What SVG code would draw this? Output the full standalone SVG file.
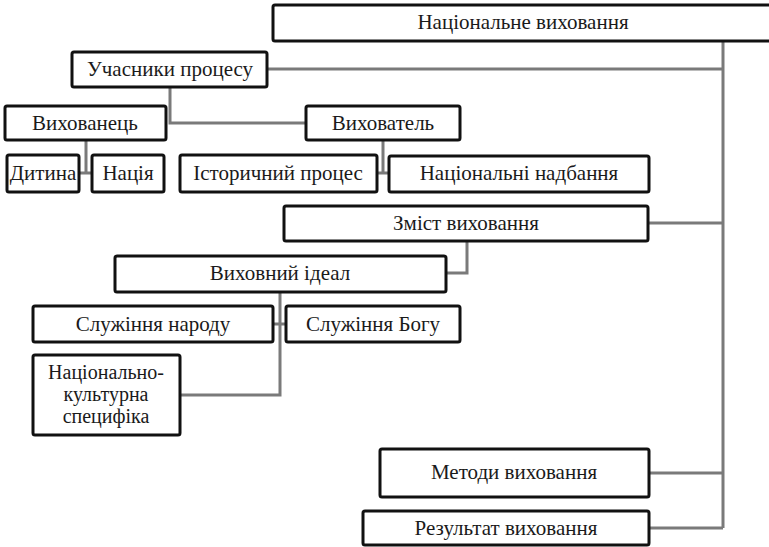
<svg xmlns="http://www.w3.org/2000/svg" width="769" height="547" viewBox="0 0 769 547">
<style>
.b{fill:#fff;stroke:#111;stroke-width:3;}
.t{font-family:"Liberation Serif","DejaVu Serif",serif;font-size:21px;fill:#1a1a1a;text-anchor:middle;}
.s{font-size:20px;}
.c{fill:none;stroke:#7a7a7a;stroke-width:3;}
</style>
<rect width="769" height="547" fill="#fff"/>
<g id="connectors">
<path class="c" d="M723 41V528"/>
<path class="c" d="M267 69H723"/>
<path class="c" d="M170 87V123H306"/>
<path class="c" d="M86 140V173M79 173H92"/>
<path class="c" d="M383 140V173M377 173H389"/>
<path class="c" d="M648 223H723"/>
<path class="c" d="M467 241V273H446"/>
<path class="c" d="M280 292V395H180M273 324H286"/>
<path class="c" d="M649 473H723"/>
<path class="c" d="M649 528H723"/>
</g>
<g id="n-nat"><rect class="b" x="273" y="5" width="510" height="36" rx="2"/><text class="t" x="523" y="29">Національне виховання</text></g>
<g id="n-uch"><rect class="b" x="72" y="52" width="195" height="35" rx="2"/><text class="t" x="170" y="76">Учасники процесу</text></g>
<g id="n-vykhovanets"><rect class="b" x="5" y="106" width="161" height="34" rx="2"/><text class="t" x="85" y="130">Вихованець</text></g>
<g id="n-vykhovatel"><rect class="b" x="306" y="106" width="154" height="34" rx="2"/><text class="t" x="383" y="130">Вихователь</text></g>
<g id="n-dytyna"><rect class="b" x="7" y="155" width="72" height="37" rx="2"/><text class="t" x="43" y="180">Дитина</text></g>
<g id="n-natsiia"><rect class="b" x="92" y="155" width="72" height="37" rx="2"/><text class="t" x="128" y="180">Нація</text></g>
<g id="n-istor"><rect class="b" x="180" y="155" width="197" height="37" rx="2"/><text class="t" x="278" y="180">Історичний процес</text></g>
<g id="n-nadb"><rect class="b" x="389" y="156" width="260" height="36" rx="2"/><text class="t" x="519" y="180">Національні  надбання</text></g>
<g id="n-zmist"><rect class="b" x="284" y="206" width="364" height="35" rx="2"/><text class="t" x="466" y="230">Зміст виховання</text></g>
<g id="n-ideal"><rect class="b" x="115" y="256" width="331" height="36" rx="2"/><text class="t" x="280" y="280">Виховний ідеал</text></g>
<g id="n-narod"><rect class="b" x="33" y="306" width="240" height="36" rx="2"/><text class="t" x="153" y="331">Служіння народу</text></g>
<g id="n-bog"><rect class="b" x="286" y="306" width="174" height="36" rx="2"/><text class="t" x="373" y="331">Служіння Богу</text></g>
<g id="n-spec"><rect class="b" x="33" y="355" width="147" height="80" rx="2"/><text class="t s" x="106" y="379">Національно-</text><text class="t s" x="106" y="401">культурна</text><text class="t s" x="106" y="423">специфіка</text></g>
<g id="n-metody"><rect class="b" x="380" y="449" width="269" height="48" rx="2"/><text class="t" x="514" y="479">Методи виховання</text></g>
<g id="n-rez"><rect class="b" x="363" y="511" width="286" height="34" rx="2"/><text class="t" x="506" y="535">Результат  виховання</text></g>
</svg>
